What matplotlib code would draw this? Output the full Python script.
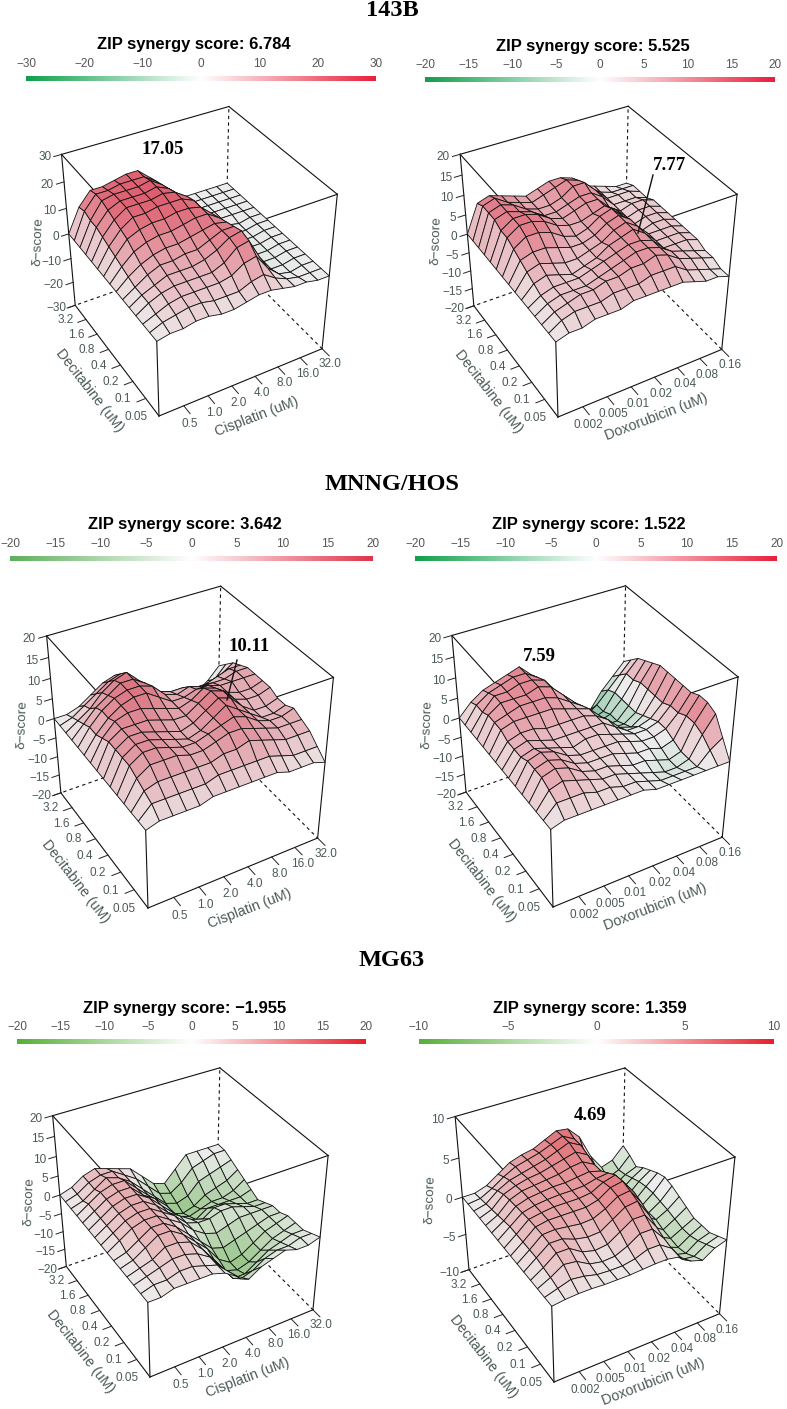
import numpy as np
import matplotlib
matplotlib.use("Agg")
import matplotlib.pyplot as plt
from matplotlib.colors import LinearSegmentedColormap, Normalize
from matplotlib.lines import Line2D
from mpl_toolkits.mplot3d import proj3d

plt.rcParams["font.family"] = ["Liberation Sans", "DejaVu Sans"]

W, H = 787, 1409

cell_lines = ["143B", "MNNG/HOS", "MG63"]
decitabine_ticks = ["0.05", "0.1", "0.2", "0.4", "0.8", "1.6", "3.2"]
cisplatin_ticks = ["0.5", "1.0", "2.0", "4.0", "8.0", "16.0", "32.0"]
doxorubicin_ticks = ["0.002", "0.005", "0.01", "0.02", "0.04", "0.08", "0.16"]
zip_scores = ["6.784", "5.525", "3.642", "1.522", "\u22121.955", "1.359"]
z_ranges = [30, 20, 20, 20, 20, 10]
peak_labels = ["17.05", "7.77", "10.11", "7.59", "", "4.69"]

# rows: decitabine low -> high, columns: second drug low -> high
z_143b_cis = [
    [0, 1, 1, 2, 2, 1, 1, 2, 3, 3, 2, 1, 1, 0, 0],
    [0, 2, 3, 4, 4, 3, 3, 3, 5, 6, 3, 1, 0, 0, 0],
    [0, 2, 4, 5, 5, 5, 5, 6, 9, 10, 4, 0, -1, 0, 0],
    [0, 3, 5, 6, 6, 6, 6, 8, 12, 13, 5, -1, -1, 0, 0],
    [0, 3, 5, 7, 7, 7, 8, 10, 13, 14, 5, -1, -1, 0, 0],
    [0, 3, 6, 8, 8, 9, 9, 11, 13, 13, 4, -1, -1, 0, 0],
    [0, 4, 7, 9, 10, 10, 11, 12, 13, 12, 3, -1, -1, 0, 0],
    [0, 5, 9, 11, 12, 12, 13, 14, 14, 11, 2, -1, -1, 0, 0],
    [0, 6, 11, 13, 14, 14, 15, 15, 14, 10, 1, -1, -1, 0, 0],
    [0, 7, 12, 15, 15, 16, 16, 16, 14, 8, 1, 0, -1, 0, 0],
    [0, 8, 13, 16, 16, 16, 17, 16, 13, 6, 0, 0, 0, 0, 0],
    [0, 9, 14, 16, 16, 16, 17, 15, 11, 4, 0, 0, 0, 0, 0],
    [0, 9, 15, 16, 16, 16, 17, 14, 9, 3, 0, 0, 0, 0, 0],
    [0, 10, 15, 15, 16, 16, 16, 13, 7, 2, 0, 0, 0, 0, 0],
    [0, 9, 14, 14, 15, 16, 16, 12, 6, 1, 0, 0, 0, 0, 0],
]
z_143b_dox = [
    [0, 1, 1, 2, 2, 2, 3, 3, 3, 3, 3, 2, 1, 1, 0],
    [0, 2, 3, 3, 3, 4, 4, 4, 5, 5, 5, 3, 2, 1, 0],
    [0, 2, 3, 4, 4, 5, 5, 6, 6, 7, 6, 4, 3, 2, 1],
    [0, 2, 3, 3, 3, 4, 5, 6, 7, 7, 6, 4, 3, 2, 1],
    [0, 2, 3, 3, 3, 4, 5, 6, 7, 7, 6, 3, 3, 3, 2],
    [0, 3, 4, 3, 2, 3, 4, 6, 7, 8, 6, 3, 3, 3, 2],
    [0, 4, 5, 4, 3, 3, 4, 5, 7, 8, 6, 3, 3, 3, 2],
    [0, 5, 6, 6, 5, 4, 4, 5, 7, 8, 6, 2, 3, 3, 2],
    [0, 6, 8, 8, 7, 5, 4, 5, 7, 8, 5, 2, 3, 3, 2],
    [0, 7, 9, 9, 8, 6, 5, 5, 6, 7, 5, 2, 3, 3, 2],
    [0, 7, 9, 9, 8, 6, 5, 6, 7, 7, 4, 2, 3, 3, 2],
    [0, 8, 9, 8, 7, 5, 5, 6, 7, 7, 5, 2, 2, 2, 1],
    [0, 8, 9, 8, 6, 5, 5, 6, 8, 8, 5, 2, 2, 2, 1],
    [0, 8, 9, 7, 6, 5, 6, 7, 8, 7, 4, 2, 1, 1, 1],
    [0, 7, 8, 7, 6, 5, 6, 7, 7, 6, 3, 2, 1, 0, 0],
]
z_mnng_cis = [
    [0, 1, 1, 1, 1, 2, 2, 2, 2, 2, 2, 1, 1, 1, 0],
    [0, 3, 3, 3, 3, 3, 4, 4, 4, 4, 4, 3, 2, 2, 2],
    [0, 4, 5, 5, 5, 5, 5, 6, 6, 7, 6, 5, 4, 4, 4],
    [0, 5, 7, 7, 7, 6, 6, 7, 8, 8, 7, 6, 5, 5, 5],
    [0, 6, 8, 8, 7, 6, 6, 7, 8, 9, 8, 6, 5, 5, 6],
    [0, 6, 8, 8, 7, 6, 5, 6, 8, 10, 8, 6, 4, 4, 5],
    [0, 6, 8, 8, 7, 6, 5, 6, 8, 10, 9, 6, 4, 4, 5],
    [0, 6, 8, 8, 8, 7, 6, 6, 8, 10, 9, 6, 5, 5, 6],
    [0, 5, 8, 9, 9, 8, 7, 6, 7, 9, 8, 6, 5, 5, 6],
    [0, 4, 7, 9, 10, 10, 8, 6, 6, 7, 7, 6, 6, 6, 6],
    [0, 4, 7, 9, 10, 10, 9, 6, 5, 6, 5, 5, 5, 6, 6],
    [0, 3, 6, 8, 10, 10, 8, 5, 4, 4, 3, 3, 4, 5, 5],
    [0, 2, 4, 7, 9, 10, 7, 3, 2, 1, 0, 0, 1, 2, 4],
    [0, 1, 3, 5, 7, 8, 5, 1, 0, -1, -2, -3, -3, -1, 2],
    [0, 0, 1, 3, 5, 6, 3, 0, -1, -2, -3, -5, -5, -3, 0],
]
z_mnng_dox = [
    [0, 1, 1, 1, 1, 1, 1, 1, 0, 0, 0, 0, 0, 0, 0],
    [0, 3, 3, 3, 2, 2, 1, 1, 0, -1, -1, -1, -1, 2, 4],
    [0, 4, 5, 4, 3, 2, 2, 1, 0, -1, -2, -2, -1, 4, 8],
    [0, 5, 6, 5, 3, 2, 2, 1, 0, 0, -1, -2, -1, 5, 9],
    [0, 5, 6, 5, 3, 2, 2, 2, 1, 0, 0, -1, 0, 5, 9],
    [0, 5, 6, 5, 3, 2, 2, 2, 2, 1, 0, 0, 1, 4, 8],
    [0, 4, 5, 4, 3, 2, 3, 3, 2, 1, 0, 0, 1, 4, 8],
    [0, 4, 5, 4, 3, 3, 3, 3, 3, 1, -1, -1, 0, 3, 8],
    [0, 4, 5, 5, 4, 4, 4, 4, 3, 1, -2, -3, -1, 3, 8],
    [0, 5, 6, 6, 6, 6, 5, 4, 3, 0, -4, -4, -2, 3, 8],
    [0, 5, 6, 7, 7, 7, 6, 4, 2, -1, -5, -5, -2, 3, 7],
    [0, 5, 7, 7, 7, 8, 7, 4, 1, -3, -6, -5, -2, 2, 6],
    [0, 4, 7, 7, 8, 8, 7, 3, 0, -4, -7, -6, -2, 2, 5],
    [0, 4, 6, 7, 8, 8, 6, 1, -2, -6, -8, -6, -3, 0, 3],
    [0, 3, 5, 6, 7, 8, 5, 0, -4, -8, -10, -9, -5, -2, 1],
]
z_mg63_cis = [
    [0, 0, 1, 1, 1, 1, 0, -2, -4, -2, -1, 0, -1, -1, 0],
    [0, 1, 1, 2, 2, 1, 0, -3, -6, -5, -3, -2, -2, -1, -1],
    [0, 1, 2, 3, 3, 2, 0, -4, -8, -8, -6, -4, -3, -2, -2],
    [0, 1, 2, 4, 4, 3, 0, -4, -8, -9, -8, -6, -4, -3, -2],
    [0, 1, 3, 5, 5, 3, 0, -3, -7, -9, -8, -6, -4, -3, -2],
    [0, 1, 3, 5, 5, 3, 0, -3, -6, -7, -6, -5, -4, -3, -3],
    [0, 2, 4, 5, 5, 3, 1, -2, -4, -5, -4, -3, -3, -3, -3],
    [0, 2, 4, 5, 5, 3, 1, -2, -3, -3, -2, -2, -3, -4, -4],
    [0, 2, 4, 5, 5, 3, 0, -2, -4, -5, -3, -3, -4, -5, -5],
    [0, 2, 4, 5, 5, 3, 0, -3, -6, -7, -5, -5, -5, -5, -4],
    [0, 2, 4, 5, 5, 2, 0, -3, -7, -8, -7, -6, -6, -5, -3],
    [0, 2, 4, 5, 5, 2, -1, -4, -8, -9, -8, -6, -5, -4, -2],
    [0, 1, 3, 5, 4, 2, -1, -4, -7, -8, -7, -4, -3, -2, -1],
    [0, 1, 3, 4, 4, 2, 0, -3, -6, -7, -5, -2, -1, 0, 0],
    [0, 1, 3, 4, 3, 2, 1, -2, -5, -6, -3, 0, 0, 0, 0],
]
z_mg63_dox = [
    [0, .2, .3, .3, .2, .2, .2, .3, .4, .4, .1, -1, -1.5, -.5, 0],
    [0, .5, 1, .8, .4, .3, .3, .6, 1.2, 1.2, .2, -1.8, -2, -1, -.5],
    [0, .8, 1.8, 1.6, .7, .4, .5, 1.2, 2.2, 2.2, .5, -2.2, -2.6, -1.5, -1],
    [0, 1, 2.2, 2.2, 1.2, .8, 1, 2, 3, 3, 1, -2.2, -2.8, -1.8, -1],
    [0, 1.2, 2.4, 2.4, 1.8, 1.5, 1.6, 2.6, 3.6, 3.8, 1.6, -1.8, -2.6, -1.8, -1],
    [0, 1.2, 2.5, 2.6, 2.4, 2.2, 2.3, 3, 4, 4.2, 2.2, -1.4, -2.4, -1.5, -.5],
    [0, 1.2, 2.5, 2.8, 2.8, 2.8, 2.8, 3.2, 4.2, 4.5, 2.6, -1, -2, -1.2, 0],
    [0, 1.2, 2.5, 2.8, 3, 3, 3, 3.2, 4, 4.4, 2.6, -1, -2, -1, .5],
    [0, 1.2, 2.4, 2.8, 3, 3.1, 3.1, 3.2, 3.6, 3.8, 2, -1.2, -2, -.8, .8],
    [0, 1, 2.3, 2.8, 3, 3.2, 3.2, 3.4, 3.6, 3.2, 1.4, -1.4, -2.2, -.8, .5],
    [0, .8, 2.2, 2.8, 3, 3.2, 3.4, 3.8, 4, 3.2, 1, -1.6, -2.4, -1, 0],
    [0, .6, 2, 2.6, 3, 3.2, 3.6, 4, 4.4, 3.6, 1, -1.8, -2.6, -1.4, -.5],
    [0, .4, 1.6, 2.4, 2.8, 3.2, 3.6, 4.2, 4.8, 4, 1.2, -1.6, -2.8, -1.8, -1.2],
    [0, .2, 1, 2, 2.8, 3.2, 3.6, 4.2, 4.8, 4, 1.2, -1, -2.6, -2, -.5],
    [0, 0, .5, 1.5, 2.5, 3, 3.3, 4, 4.7, 4.5, 3, 0, -2, -1.5, 0],
]
surfaces = [z_143b_cis, z_143b_dox, z_mnng_cis, z_mnng_dox, z_mg63_cis, z_mg63_dox]
x_ticks = [cisplatin_ticks, doxorubicin_ticks] * 3
x_names = ["Cisplatin (uM)", "Doxorubicin (uM)"] * 3

# layout in pixels of the reference
bars = [(26, 376, 76), (425, 775, 77), (10, 373, 556), (415, 777, 556), (17, 366, 1039), (419, 774, 1039)]
front_bottom = [(159, 416), (558, 417), (148, 908), (553, 907), (150, 1377), (554, 1382)]
right_bottom = [(323, 351), (722, 350), (318, 839), (723, 839), (313, 1310), (720, 1315)]
low_cols = ["#0fa04b", "#0fa04b", "#5cb05a", "#10a04a", "#55b038", "#55b038"]
high_cols = ["#e8203a", "#e8203a", "#e0344a", "#e8203a", "#e8202a", "#e8202a"]
peak_pos = [(163, 149), (670, 165), (249, 646), (539, 657), None, (590, 1116)]
peak_lines = {1: ((653, 175), (638, 233)), 2: ((237, 660), (227, 700))}
head_y = [10, 485, 960]

fig = plt.figure(figsize=(W / 100, H / 100), dpi=100)
grey = "#4a5a58"


def px(x, y):
    return x / W, 1 - y / H


def project(ax, x, y, z):
    a, b, _ = proj3d.proj_transform(x, y, z, ax.get_proj())
    return ax.transData.transform((a, b))


def label3d(ax, x, y, z, s, **kw):
    p = project(ax, x, y, z)
    fig.text(p[0] / W, p[1] / H, s, color=grey, zorder=10, **kw)


for name, y in zip(cell_lines, head_y):
    fig.text(*px(392, y), name, family="Liberation Serif", weight="bold", fontsize=17.5, ha="center", va="center")

for n, z_rows in enumerate(surfaces):
    r = z_ranges[n]
    cmap = LinearSegmentedColormap.from_list("zip", [low_cols[n], "#ffffff", high_cols[n]])
    norm = Normalize(-r, r)

    # colour bar
    x0, x1, yb = bars[n]
    cax = fig.add_axes([x0 / W, 1 - (yb + 5.5) / H, (x1 - x0) / W, 5.5 / H])
    cax.imshow(np.linspace(-r, r, 256)[None, :], cmap=cmap, norm=norm, aspect="auto", extent=(-r, r, 0, 1))
    cax.set_yticks([])
    step = 5 if r in (10, 20) else 10
    cax.set_xticks(np.arange(-r, r + 1, step))
    cax.set_xticklabels([str(v).replace("-", "\u2212") for v in np.arange(-r, r + 1, step)], fontsize=8.5, color="#555555")
    cax.tick_params(axis="x", top=False, bottom=False, labeltop=True, labelbottom=False, pad=1)
    for s in cax.spines.values():
        s.set_visible(False)
    fig.text(*px((x0 + x1) / 2 - 7, yb - 31), "ZIP synergy score: " + zip_scores[n], weight="bold", fontsize=11.9, ha="center", va="center")

    # surface
    ax = fig.add_axes([0, 0, 340 / W, 340 / H], projection="3d", computed_zorder=False)
    ax.set_axis_off()
    ax.patch.set_alpha(0)
    ax.set_proj_type("persp", focal_length=0.6)
    ax.view_init(elev=37, azim=-120)
    ax.set_box_aspect((1, 1, 1.0))
    ax.set_xlim(0, 7)
    ax.set_ylim(0, 7)
    ax.set_zlim(-r, r)

    Z = np.array(z_rows, dtype=float)
    g = np.arange(15) / 2
    X, Y = np.meshgrid(g, g)
    cells = (Z[:-1, :-1] + Z[1:, :-1] + Z[:-1, 1:] + Z[1:, 1:]) / 4
    colors = cmap(norm(cells * 1.25))
    colors[..., :3] *= 0.93
    ax.plot_surface(X, Y, Z, rstride=1, cstride=1, facecolors=colors, shade=False,
                    edgecolor="#111111", linewidth=0.6, antialiased=True, zorder=3)

    # box
    c = {"fb": (0, 0, -r), "lb": (0, 7, -r), "rb": (7, 0, -r), "bb": (7, 7, -r),
         "ft": (0, 0, r), "lt": (0, 7, r), "rt": (7, 0, r), "bt": (7, 7, r)}
    for a, b in [("fb", "lb"), ("fb", "rb"), ("fb", "ft"), ("lb", "lt"), ("rb", "rt"),
                 ("lt", "bt"), ("bt", "rt"), ("lt", "ft"), ("rt", "ft")]:
        ax.plot(*zip(c[a], c[b]), color="#111111", lw=0.8, zorder=1)
    for a, b in [("bb", "bt"), ("bb", "lb"), ("bb", "rb")]:
        ax.plot(*zip(c[a], c[b]), color="#111111", lw=0.8, ls=(0, (3, 3)), zorder=1)

    # ticks
    for k in range(7):
        ax.plot([k + 1, k + 1], [0, -0.45], [-r, -r], color="#222222", lw=0.7, zorder=1)
        ax.plot([0, -0.35], [k + 1, k + 1], [-r, -r], color="#222222", lw=0.7, zorder=1)
    z_step = 10 if r == 30 else 5
    z_vals = np.arange(-r, r + 1, z_step)
    for v in z_vals:
        ax.plot([0, -0.3], [7, 7], [v, v], color="#222222", lw=0.7, zorder=1)

    # fit the box onto the reference corners
    p0 = project(ax, *c["fb"])
    p1 = project(ax, *c["rb"])
    want = np.array(right_bottom[n]) - np.array(front_bottom[n])
    size = 340 * np.hypot(*want) / np.hypot(*(p1 - p0))
    ax.set_position([0, 0, size / W, size / H])
    p0 = project(ax, *c["fb"])
    dx = front_bottom[n][0] - p0[0]
    dy = (H - front_bottom[n][1]) - p0[1]
    ax.set_position([dx / W, dy / H, size / W, size / H])

    # labels go on the figure, where they can be rotated freely
    for k in range(7):
        label3d(ax, k + 0.75, -0.85, -r, x_ticks[n][k], fontsize=8.5, ha="center", va="center")
        label3d(ax, -0.72, k + 0.37, -r, decitabine_ticks[k], fontsize=8.5, ha="center", va="center")
    for v in z_vals:
        label3d(ax, -0.4, 7, v, str(v).replace("-", "\u2212"), fontsize=8.5, ha="right", va="center")
    label3d(ax, -1.25, 7, 1, "\u03b4\u2212score", fontsize=9.7, rotation=88, ha="center", va="center")
    label3d(ax, 2.98, -1.73, -r, x_names[n], fontsize=10.3, rotation=21, ha="center", va="center", rotation_mode="anchor")
    label3d(ax, -1.56, 2.36, -r, "Decitabine (uM)", fontsize=10.3, rotation=-52, ha="center", va="center", rotation_mode="anchor")

    if peak_pos[n]:
        fig.text(*px(*peak_pos[n]), peak_labels[n], family="Liberation Serif", weight="bold", fontsize=13.5, ha="center", va="center", zorder=10)
    if n in peak_lines:
        a, b = peak_lines[n]
        fig.add_artist(Line2D(*zip(px(*a), px(*b)), color="#111111", lw=1, zorder=10))

fig.savefig("out.png", dpi=100)
